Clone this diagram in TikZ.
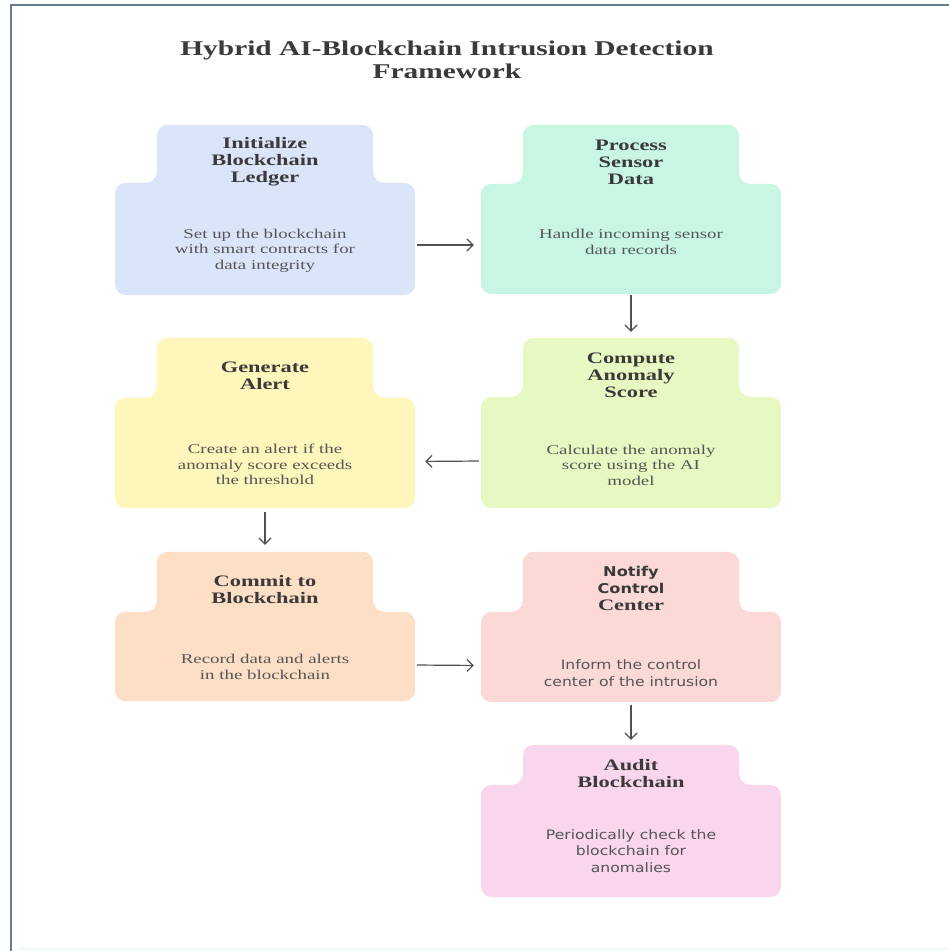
\documentclass[tikz,border=0pt]{standalone}
\usepackage{fontspec}
\setmainfont{Liberation Serif}
\newfontfamily\wideserif[FakeStretch=1.4]{Liberation Serif}
\newfontfamily\widesans[FakeStretch=1.2]{DejaVu Sans}
\usetikzlibrary{arrows.meta,backgrounds}
\definecolor{frameblue}{RGB}{100,124,150}
\definecolor{inkdark}{RGB}{58,58,58}
\definecolor{inkgray}{RGB}{85,85,85}
\definecolor{arrowgray}{RGB}{80,80,80}
\definecolor{blueC}{RGB}{219,229,250}
\definecolor{mintC}{RGB}{200,246,226}
\definecolor{yelC}{RGB}{254,246,186}
\definecolor{limeC}{RGB}{232,248,194}
\definecolor{peachC}{RGB}{253,223,198}
\definecolor{salmonC}{RGB}{251,217,215}
\definecolor{pinkC}{RGB}{250,213,238}

\begin{document}
\begin{tikzpicture}[x=10pt,y=10pt]
\tikzstyle{every node}+=[inner sep=0pt]
\tikzstyle{cardbody}=[minimum width=300pt]
\tikzstyle{cardtab}=[minimum width=216pt,minimum height=74pt,align=center,text=inkdark,font=\wideserif\bfseries\fontsize{16}{17}\selectfont]
\tikzstyle{cardtext}=[align=center,text=inkgray,font=\wideserif\fontsize{13.5}{15.5}\selectfont]
\tikzstyle{cardsans}=[align=center,text=inkgray,font=\widesans\fontsize{13}{16.5}\selectfont]
\tikzstyle{flow}=[-{Straight Barb[length=6pt,width=12pt]},line width=1.2pt,draw=arrowgray]
\useasboundingbox (0,0) rectangle (94.9,-95.1);
\draw [frameblue,line width=2pt] (1.05,-95.1) -- (1.05,-0.45) -- (94.9,-0.45);
\draw [cyan!8,line width=1.5pt] (1.9,-94.9) -- (94.9,-94.9);
\node [font=\wideserif\bfseries\fontsize{21}{23}\selectfont,text=inkdark,align=center] (title) at (44.7,-6.0) {Hybrid AI-Blockchain Intrusion Detection\\Framework};
\node [cardbody,minimum height=112pt] (init) at (26.5,-23.9) {};
\node [cardtab,yshift=-2pt] (init-t) at (26.5,-16.0) {Initialize\\Blockchain\\Ledger};
\node [cardtext] (init-x) at (26.5,-25.05) {Set up the blockchain\\with smart contracts for\\data integrity};
\node [cardbody,minimum height=110pt] (proc) at (63.1,-23.9) {};
\node [cardtab,yshift=-2pt] (proc-t) at (63.1,-16.0) {Process\\Sensor\\Data};
\node [cardtext] (proc-x) at (63.1,-24.2) {Handle incoming sensor\\data records};
\node [cardbody,minimum height=110pt] (gen) at (26.5,-45.3) {};
\node [cardtab,minimum height=76pt] (gen-t) at (26.5,-37.6) {Generate\\Alert};
\node [cardtext] (gen-x) at (26.5,-46.45) {Create an alert if the\\anomaly score exceeds\\the threshold};
\node [cardbody,minimum height=111pt] (comp) at (63.1,-45.25) {};
\node [cardtab] (comp-t) at (63.1,-37.5) {Compute\\Anomaly\\Score};
\node [cardtext] (comp-x) at (63.1,-46.5) {Calculate the anomaly\\score using the AI\\model};
\node [cardbody,minimum height=89pt] (commit) at (26.5,-65.65) {};
\node [cardtab,minimum height=76pt] (commit-t) at (26.5,-59.0) {Commit to\\Blockchain};
\node [cardtext] (commit-x) at (26.5,-66.7) {Record data and alerts\\in the blockchain};
\node [cardbody,minimum height=90pt] (notify) at (63.1,-65.7) {};
\node [cardtab,minimum height=72pt] (notify-t) at (63.1,-58.8) {{\widesans\fontsize{13.5}{17}\selectfont Notify}\\{\widesans\fontsize{13.5}{17}\selectfont Control}\\Center};
\node [cardsans] (notify-x) at (63.1,-67.3) {Inform the control\\center of the intrusion};
\node [cardbody,minimum height=112pt] (audit) at (63.1,-84.1) {};
\node [cardtab,minimum height=58pt] (audit-t) at (63.1,-77.4) {Audit\\Blockchain};
\node [cardsans] (audit-x) at (63.1,-85.1) {Periodically check the\\blockchain for\\anomalies};
\begin{scope}[on background layer]
\foreach \n/\c in {init/blueC,proc/mintC,gen/yelC,comp/limeC,commit/peachC,notify/salmonC,audit/pinkC}
  \fill [\c,rounded corners=11pt] (\n.south west) -- (\n.north west) -- (\n-t.west |- \n.north) -- (\n-t.north west) -- (\n-t.north east) -- (\n-t.east |- \n.north) -- (\n.north east) -- (\n.south east) -- cycle;
\end{scope}
\draw [flow,shorten <=2pt,shorten >=7pt] ([yshift=-6pt]init.east) -- ([yshift=-6pt]proc.west);
\draw [flow,shorten <=1pt,shorten >=6pt] (proc.south) -- (comp-t.north);
\draw [flow,shorten <=2pt,shorten >=10pt] ([yshift=-8.5pt]comp.west) -- ([yshift=-8.5pt]gen.east);
\draw [flow,shorten <=4pt,shorten >=7pt] (gen.south) -- (commit-t.north);
\draw [flow,shorten <=2pt,shorten >=7pt] ([yshift=-8.5pt]commit.east) -- ([yshift=-8.5pt]notify.west);
\draw [flow,shorten <=3pt,shorten >=5pt] (notify.south) -- (audit-t.north);
\end{tikzpicture}
\end{document}
